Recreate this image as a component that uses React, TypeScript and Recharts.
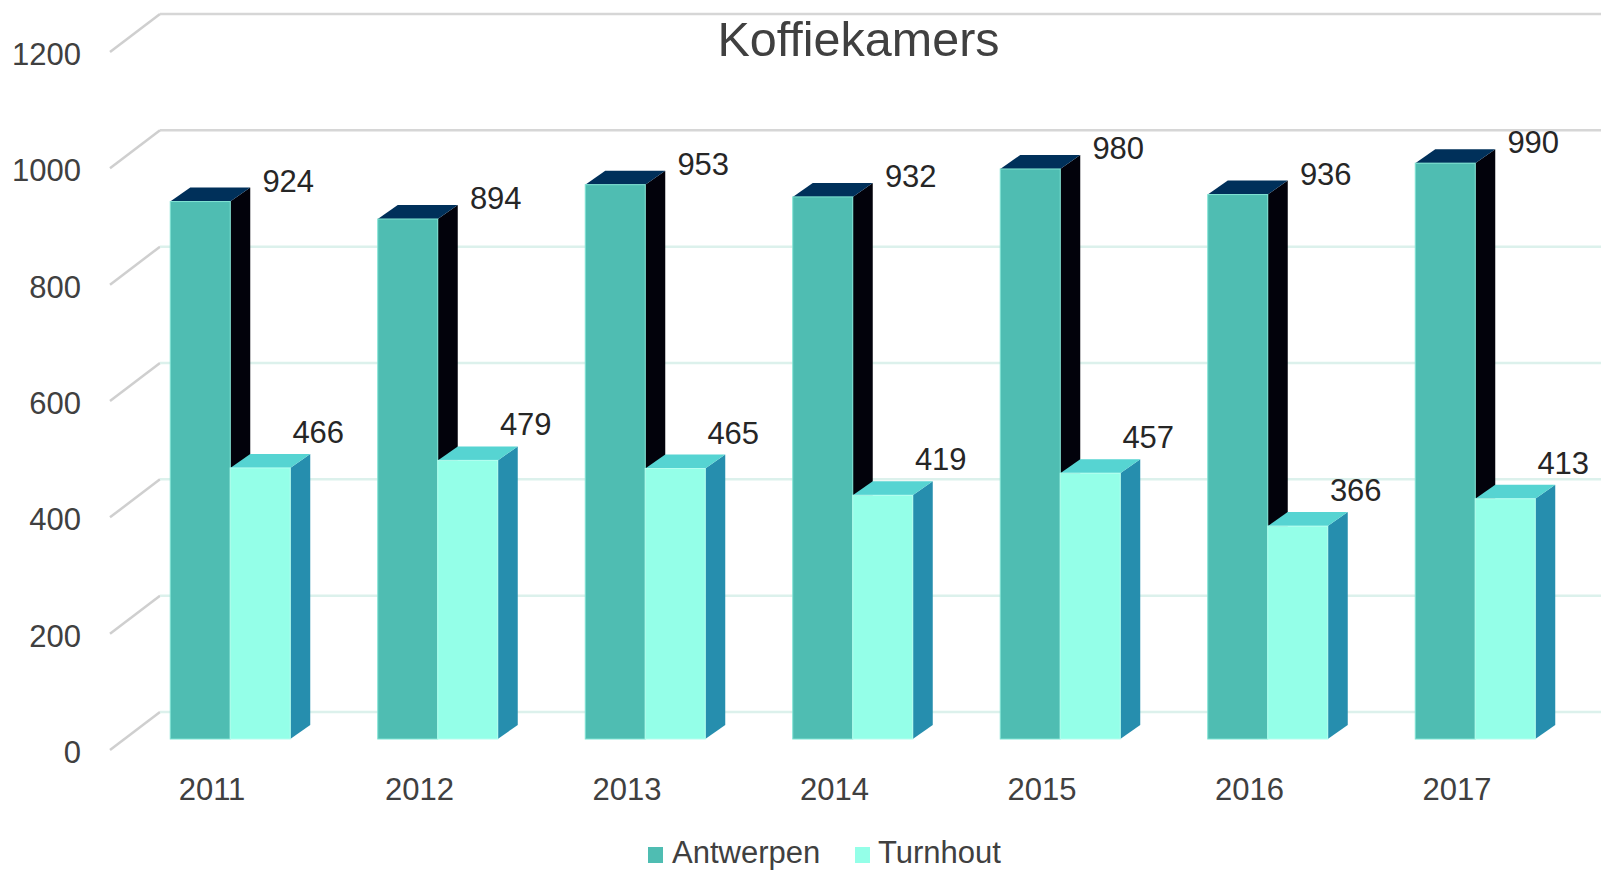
import React from 'react';
import { BarChart, Bar, XAxis, YAxis, CartesianGrid } from 'recharts';

const years = ['2011', '2012', '2013', '2014', '2015', '2016', '2017'];
const antwerpen = [924, 894, 953, 932, 980, 936, 990];
const turnhout = [466, 479, 465, 419, 457, 366, 413];
const yTicks = [0, 200, 400, 600, 800, 1000, 1200];

const data = years.map((year, i) => ({ year, Antwerpen: antwerpen[i], Turnhout: turnhout[i] }));

const W = 1601;
const H = 872;
const TOP = 41;
const BOTTOM = 739;
const FONT = '"Liberation Sans", Arial, sans-serif';

// 3d depth of the boxes
const DX = 20;
const DY = 14;

const makeBox = (front: string, top: string, side: string, edge: string) => (props: any) => {
  const { x, y, width, height } = props;
  if (height == null || width == null) return <g />;
  const r = x + width;
  const b = y + height;
  return (
    <g>
      <polygon points={`${r},${b} ${r + DX},${b - DY} ${r + DX},${y - DY} ${r},${y}`} fill={side} />
      <polygon points={`${x},${y} ${x + DX},${y - DY} ${r + DX},${y - DY} ${r},${y}`} fill={top} />
      <rect x={x} y={y} width={width} height={height} fill={front} stroke={edge} strokeWidth={1} />
    </g>
  );
};

const antwerpenBox = makeBox('#4fbdb2', '#00305a', '#02020b', '#7fe3d3');
const turnhoutBox = makeBox('#94ffe8', '#56d4d2', '#268eae', '#b4fff0');

const makeLabel = (shift: number, lift: number) => (props: any) => {
  const { x, y, width, value } = props;
  return (
    <text x={x + width / 2 + shift} y={y - lift} textAnchor="middle" fontSize={31} fontFamily={FONT} fill="#262626">
      {value}
    </text>
  );
};

const gridLine = (p: any) => {
  const y = p.y1;
  const v = ((BOTTOM - y) / (BOTTOM - TOP)) * 1200;
  const color = v > 900 ? '#d6d6d6' : '#dcf1ec';
  return (
    <g key={`g-${p.index}-${y}`}>
      <line x1={110} y1={y + 11} x2={160} y2={y - 27} stroke="#cfcfcf" strokeWidth={2.5} />
      <line x1={160} y1={y - 27} x2={W} y2={y - 27} stroke={color} strokeWidth={2.5} />
    </g>
  );
};

const YTick = (props: any) => {
  const { y, payload } = props;
  return (
    <text x={81} y={y + 24} textAnchor="end" fontSize={31} fontFamily={FONT} fill="#404040">
      {payload.value}
    </text>
  );
};

const XTick = (props: any) => {
  const { x, payload } = props;
  return (
    <text x={x - 18} y={800} textAnchor="middle" fontSize={31} fontFamily={FONT} fill="#404040">
      {payload.value}
    </text>
  );
};

export default function App() {
  return (
    <div style={{ position: 'absolute', left: 0, top: 0, width: W, height: H, background: '#fff' }}>
      <BarChart
        width={W}
        height={H}
        data={data}
        margin={{ top: TOP, right: 22.25, bottom: H - BOTTOM - 30, left: 0 }}
        barGap={0}
        barSize={60}
      >
        <CartesianGrid vertical={false} horizontal={gridLine} />
        <YAxis
          domain={[0, 1200]}
          ticks={yTicks}
          width={126.25}
          axisLine={false}
          tickLine={false}
          tick={<YTick />}
          interval={0}
        />
        <XAxis dataKey="year" height={30} axisLine={false} tickLine={false} tick={<XTick />} interval={0} />
        <Bar dataKey="Antwerpen" fill="#4fbdb2" shape={antwerpenBox} label={makeLabel(88, 10)} isAnimationActive={false} />
        <Bar dataKey="Turnhout" fill="#94ffe8" shape={turnhoutBox} label={makeLabel(58, 25)} isAnimationActive={false} />
      </BarChart>
      <svg width={W} height={H} style={{ position: 'absolute', left: 0, top: 0, pointerEvents: 'none' }}>
        <text x={858.5} y={56} textAnchor="middle" fontSize={48.5} fontFamily={FONT} fill="#404040">
          Koffiekamers
        </text>
        <rect x={648} y={847} width={15} height={16} fill="#4fbdb2" />
        <text x={672} y={863} fontSize={31} fontFamily={FONT} fill="#404040">Antwerpen</text>
        <rect x={855} y={847} width={15} height={16} fill="#94ffe8" />
        <text x={878} y={863} fontSize={31} fontFamily={FONT} fill="#404040">Turnhout</text>
      </svg>
    </div>
  );
}
